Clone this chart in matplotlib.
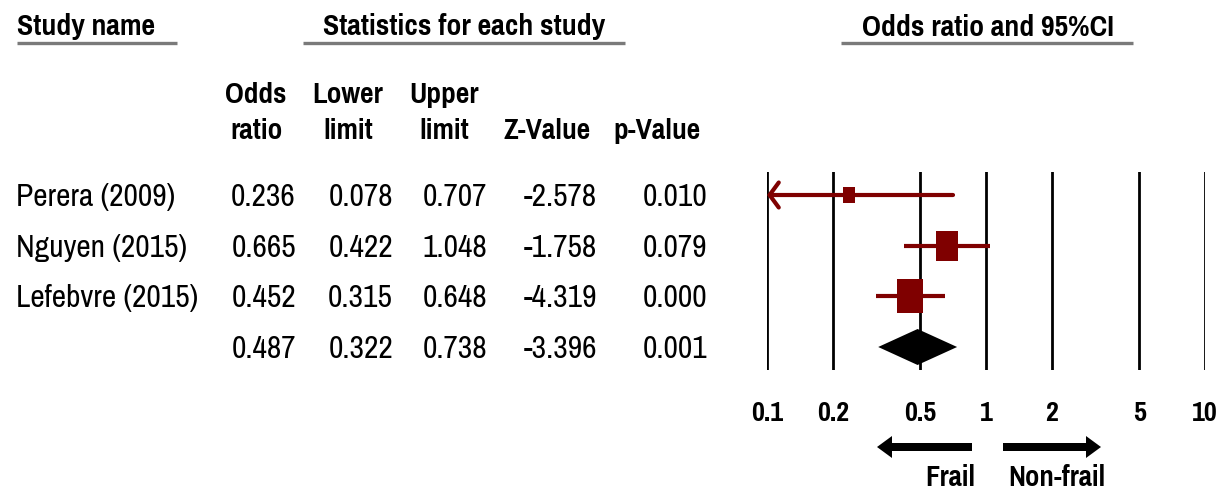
import numpy as np
import matplotlib
matplotlib.use("Agg")
import matplotlib.pyplot as plt
from matplotlib import font_manager

# narrow sans face for all labels
installed = {f.name for f in font_manager.fontManager.ttflist}
narrow = next(f for f in ['Liberation Sans Narrow', 'Arial Narrow', 'Pragati Narrow',
                          'Archivo Narrow', 'DejaVu Sans'] if f in installed)
plt.rcParams['font.family'] = [narrow, 'DejaVu Sans']

# Study-level data
studies = ["Perera (2009)", "Nguyen (2015)", "Lefebvre (2015)", ""]
odds_ratio = [0.236, 0.665, 0.452, 0.487]
lower_limit = [0.078, 0.422, 0.315, 0.322]
upper_limit = [0.707, 1.048, 0.648, 0.738]
z_value = [-2.578, -1.758, -4.319, -3.396]
p_value = [0.010, 0.079, 0.000, 0.001]

x_ticks = [0.1, 0.2, 0.5, 1, 2, 5, 10]
x_tick_labels = ["0.1", "0.2", "0.5", "1", "2", "5", "10"]

# box heights (points) for the three studies, last row is the pooled diamond
box_size = [11.5, 21.0, 24.5]

W, H = 1230, 493
red = '#7f0000'

fig = plt.figure(figsize=(W / 100, H / 100), dpi=100)

# canvas in pixel units for the table text
bg = fig.add_axes([0, 0, 1, 1])
bg.set_xlim(0, W)
bg.set_ylim(H, 0)
bg.axis('off')

# forest plot area
ax = fig.add_axes([767 / W, 1 - 370 / H, 438 / W, 198 / H])
ax.set_xscale('log')
ax.set_xlim(0.1, 10)
ax.set_ylim(3.454, -0.454)
for s in ax.spines.values():
    s.set_visible(False)
ax.set_yticks([])
ax.minorticks_off()
ax.set_xticks(x_ticks)
ax.set_xticklabels(x_tick_labels, fontsize=22, fontweight='bold')
ax.tick_params(axis='x', length=0, pad=22)
ax.patch.set_alpha(0)

for xv in x_ticks:
    ax.axvline(xv, color='black', lw=2.0, zorder=1)

box = [(-1, -1.27), (1, -1.27), (1, 1.27), (-1, 1.27), (-1, -1.27)]
n_studies = len(studies) - 1
for i in range(n_studies):
    lo = max(lower_limit[i], 0.1)
    if lower_limit[i] < 0.1:
        # interval runs past the axis: open arrow head at the edge
        ax.annotate('', xy=(lo, i), xytext=(upper_limit[i], i),
                    arrowprops=dict(arrowstyle='->,head_length=0.33,head_width=0.45',
                                    color=red, lw=3, shrinkA=0, shrinkB=0,
                                    mutation_scale=20), zorder=3)
    else:
        ax.plot([lo, upper_limit[i]], [i, i], color=red, lw=3, zorder=3,
                solid_capstyle='butt')
    ax.plot(odds_ratio[i], i, marker=box, markersize=box_size[i],
            color=red, markeredgewidth=0, zorder=4)

# pooled estimate
k = n_studies
h = 0.355
ax.fill([lower_limit[k], odds_ratio[k], upper_limit[k], odds_ratio[k]],
        [k, k - h, k, k + h], color='black', zorder=4, lw=0)

# headers
gray = '#7a7a7a'
hdr = dict(fontsize=23.3, fontweight='bold', va='center')
bg.text(17, 27, "Study name", ha='left', **hdr)
bg.text(464, 27, "Statistics for each study", ha='center', **hdr)
bg.text(988, 27, "Odds ratio and 95%CI", ha='center', **hdr)
for x0, x1 in [(17, 177), (303, 625), (841, 1133)]:
    bg.plot([x0, x1], [43, 43], color=gray, lw=2.4, solid_capstyle='butt')

col_x = [296, 393, 487, 597, 707]
col_head_x = [256, 348, 444, 547, 657]
col_head = [("Odds", "ratio"), ("Lower", "limit"), ("Upper", "limit"),
            ("", "Z-Value"), ("", "p-Value")]
for cx, (l1, l2) in zip(col_head_x, col_head):
    bg.text(cx, 95, l1, ha='center', va='center', fontsize=23, fontweight='bold')
    bg.text(cx, 131, l2, ha='center', va='center', fontsize=23, fontweight='bold')

row_y = [195 + 50.67 * i + 2 for i in range(len(studies))]
for i, y in enumerate(row_y):
    vals = [odds_ratio[i], lower_limit[i], upper_limit[i], z_value[i], p_value[i]]
    bg.text(16, y, studies[i], ha='left', va='center', fontsize=24.7)
    for cx, v in zip(col_x, vals):
        bg.text(cx, y, f"{v:.3f}", ha='right', va='center', fontsize=24.7)

# direction arrows
bg.arrow(972, 447, 877 - 972, 0, width=8, head_width=22, head_length=15,
         length_includes_head=True, color='black', lw=0)
bg.arrow(1003, 447, 1101 - 1003, 0, width=8, head_width=22, head_length=15,
         length_includes_head=True, color='black', lw=0)
bg.text(975, 477, "Frail", ha='right', va='center', fontsize=22.5, fontweight='bold')
bg.text(1008, 477, "Non-frail", ha='left', va='center', fontsize=22.5, fontweight='bold')

fig.savefig("out.png", dpi=100)
